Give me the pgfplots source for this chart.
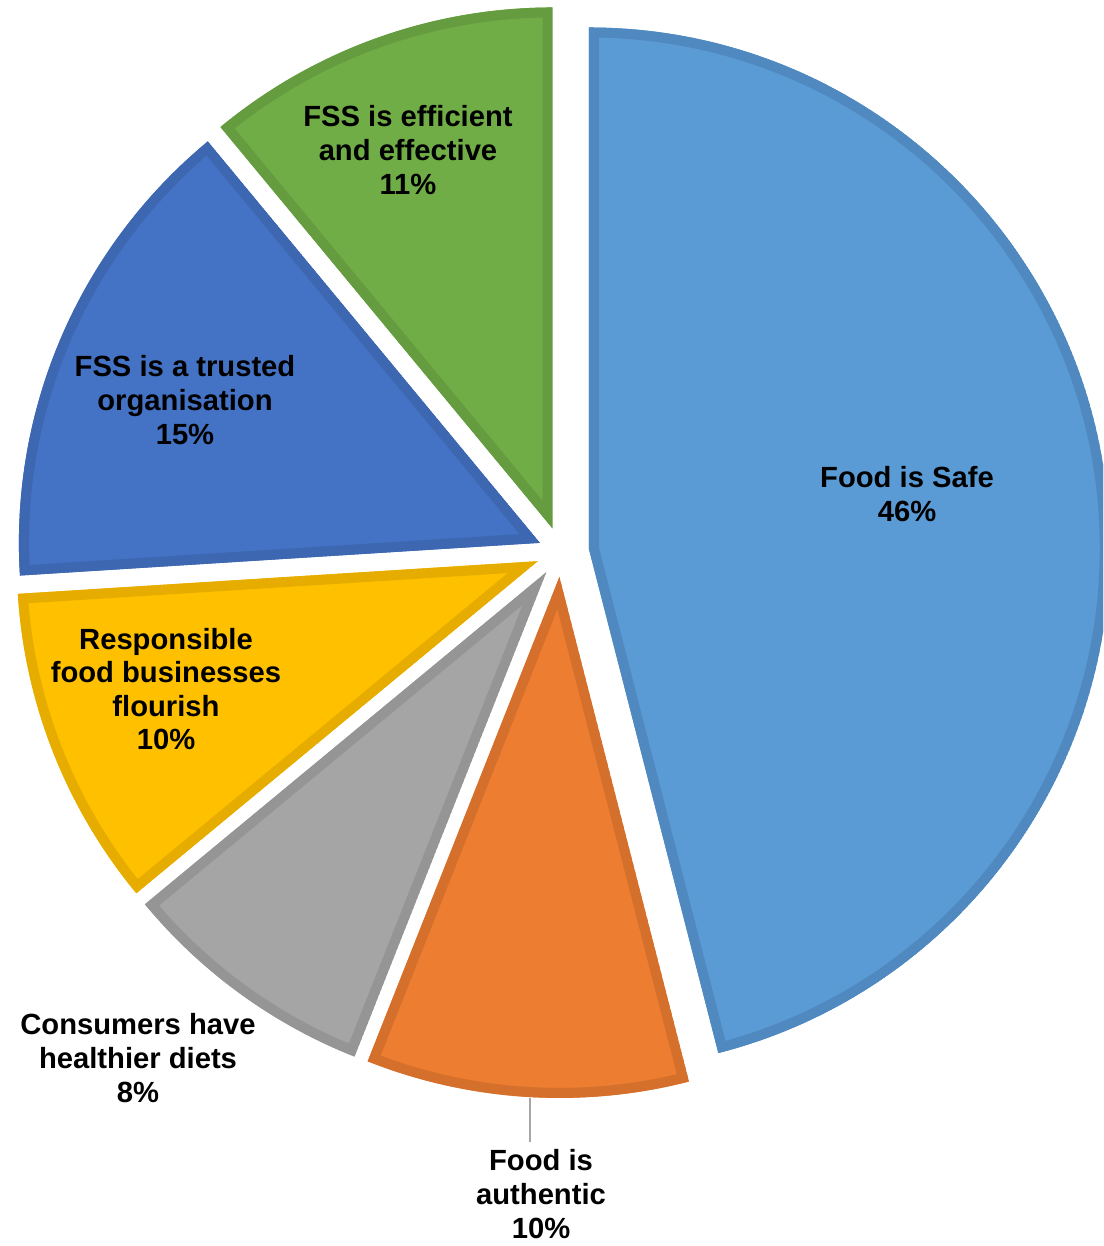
\documentclass[border=0pt]{standalone}
\usepackage{pgfplots}
\pgfplotsset{compat=1.18}
\usepackage{fontspec}
\setmainfont{Liberation Sans}

\definecolor{safeF}{HTML}{5B9BD5}\definecolor{safeB}{HTML}{4F89C0}
\definecolor{authF}{HTML}{ED7D31}\definecolor{authB}{HTML}{D5702C}
\definecolor{consF}{HTML}{A5A5A5}\definecolor{consB}{HTML}{959595}
\definecolor{respF}{HTML}{FFC000}\definecolor{respB}{HTML}{E6AD00}
\definecolor{trusF}{HTML}{4472C4}\definecolor{trusB}{HTML}{3D67B0}
\definecolor{effiF}{HTML}{70AD47}\definecolor{effiB}{HTML}{659C40}

% pie centre (data units = pixels), radius in pt (0.5pt per unit)
\def\cx{561}\def\cy{694}\def\Rr{521}
% #1 cumulative percent before slice, #2 percent, #3 explode offset
\newcommand{\slicepath}[3]{%
  (axis cs:{\cx+#3*cos(90-3.6*(#1+#2/2))},{\cy+#3*sin(90-3.6*(#1+#2/2))})
  -- (axis cs:{\cx+#3*cos(90-3.6*(#1+#2/2))+\Rr*cos(90-3.6*#1)},{\cy+#3*sin(90-3.6*(#1+#2/2))+\Rr*sin(90-3.6*#1)})
  arc[start angle={90-3.6*#1}, end angle={90-3.6*(#1+#2)}, radius=260.5pt] -- cycle}
\newcommand{\pieslice}[5]{%
  \begin{scope}
    \clip \slicepath{#1}{#2}{#3};
    \filldraw[fill=#4, draw=#5, line width=10pt] \slicepath{#1}{#2}{#3};
  \end{scope}}

\begin{document}
\begin{tikzpicture}
\begin{axis}[scale only axis, width=551.5pt, height=623pt,
  xmin=0, xmax=1103, ymin=0, ymax=1246, hide axis, clip=true]
  % cumulative, percent, explode, fill, border
  \pieslice{0}{46}{28}{safeF}{safeB}
  \pieslice{46}{10}{25}{authF}{authB}
  \pieslice{56}{8}{25}{consF}{consB}
  \pieslice{64}{10}{25}{respF}{respB}
  \pieslice{74}{15}{23}{trusF}{trusB}
  \pieslice{89}{11}{25}{effiF}{effiB}
  \draw[color=black!35, line width=1pt] (axis cs:530,148) -- (axis cs:530,104);
  \tikzset{lab/.style={align=center, font=\fontsize{14.6}{16.8}\selectfont\bfseries, text=black, inner sep=0pt}}
  \node[lab] at (axis cs:408,1096) {FSS is efficient\\and effective\\11\%};
  \node[lab] at (axis cs:185,846) {FSS is a trusted\\organisation\\15\%};
  \node[lab] at (axis cs:907,752) {Food is Safe\\46\%};
  \node[lab] at (axis cs:166,557) {Responsible\\food businesses\\flourish\\10\%};
  \node[lab] at (axis cs:138,188) {Consumers have\\healthier diets\\8\%};
  \node[lab] at (axis cs:541,52) {Food is\\authentic\\10\%};
\end{axis}
\pgfresetboundingbox
\path[use as bounding box] (current axis.south west) rectangle (current axis.north east);
\end{tikzpicture}
\end{document}
